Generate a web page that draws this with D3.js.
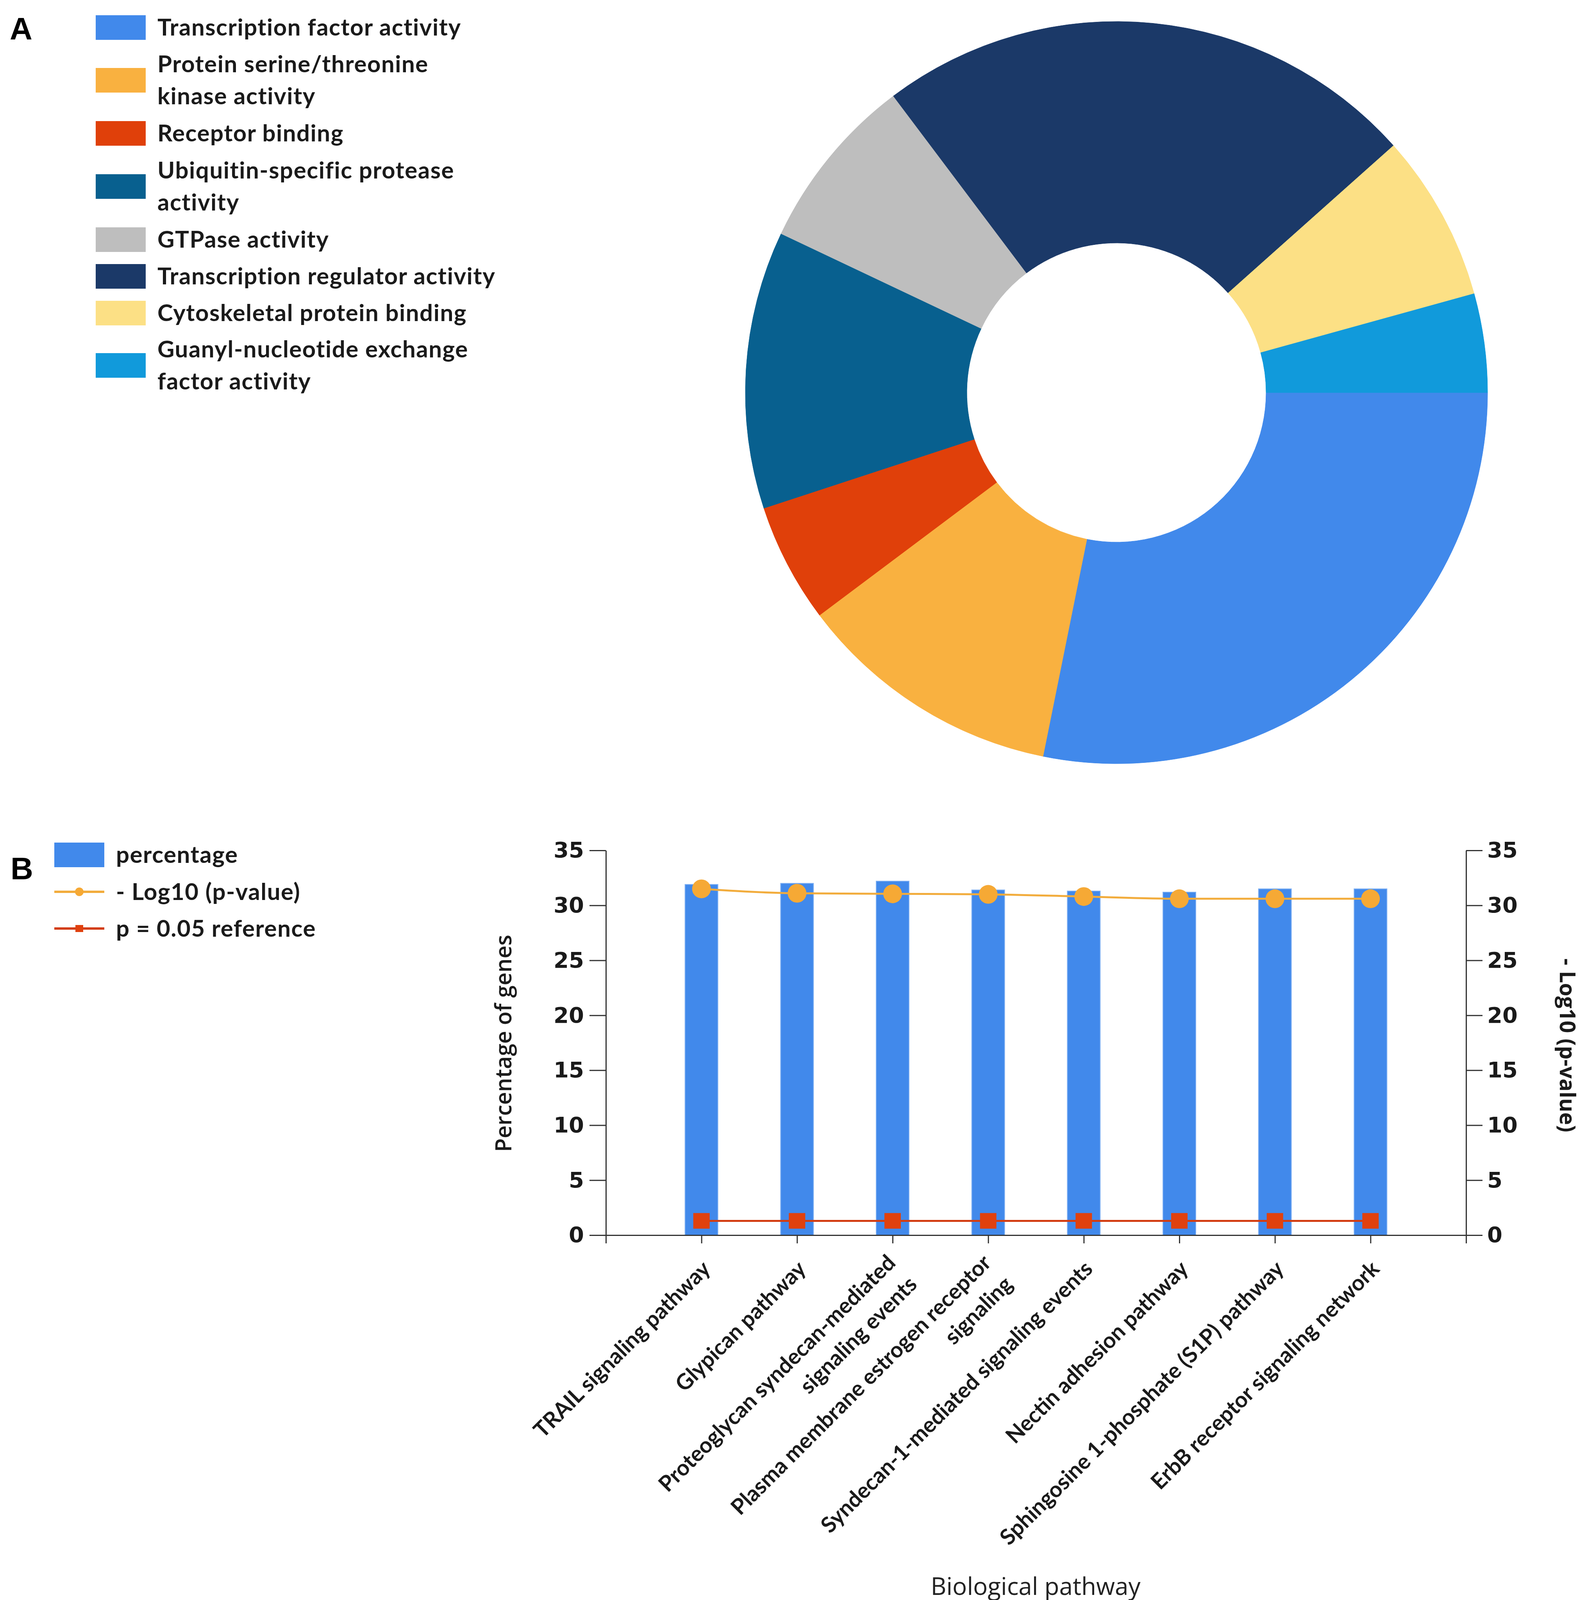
<!DOCTYPE html>
<html>
<head>
<meta charset="utf-8">
<script src="https://cdn.jsdelivr.net/npm/d3@7/dist/d3.min.js"></script>
<style>
  body { margin: 0; background: #fff; }
  svg { display: block; }
</style>
</head>
<body>
<svg id="fig" width="4083" height="4118"></svg>
<script>
// ---- panel A data (share of genes per molecular function, %) ----
var functionNames = [
  "Transcription factor activity",
  "Protein serine/threonine kinase activity",
  "Receptor binding",
  "Ubiquitin-specific protease activity",
  "GTPase activity",
  "Transcription regulator activity",
  "Cytoskeletal protein binding",
  "Guanyl-nucleotide exchange factor activity"
];
// legend lines as they wrap in the figure
var functionLegendLines = [
  ["Transcription factor activity"],
  ["Protein serine/threonine", "kinase activity"],
  ["Receptor binding"],
  ["Ubiquitin-specific protease", "activity"],
  ["GTPase activity"],
  ["Transcription regulator activity"],
  ["Cytoskeletal protein binding"],
  ["Guanyl-nucleotide exchange", "factor activity"]
];
var functionShares = [28.2, 11.6, 5.2, 12.1, 7.7, 23.7, 7.3, 4.3];
var functionColors = ["#4189EB", "#F9B140", "#E0400A", "#08608F",
                      "#BEBEBE", "#1B3968", "#FCE085", "#119ADB"];

// ---- panel B data ----
var pathways = [
  ["TRAIL signaling pathway"],
  ["Glypican pathway"],
  ["Proteoglycan syndecan-mediated", "signaling events"],
  ["Plasma membrane estrogen receptor", "signaling"],
  ["Syndecan-1-mediated signaling events"],
  ["Nectin adhesion pathway"],
  ["Sphingosine 1-phosphate (S1P) pathway"],
  ["ErbB receptor signaling network"]
];
var percentGenes = [31.9, 32.0, 32.2, 31.4, 31.3, 31.2, 31.5, 31.5];
var negLogP = [31.5, 31.1, 31.05, 31.0, 30.8, 30.6, 30.6, 30.6];
var refLine = [1.3, 1.3, 1.3, 1.3, 1.3, 1.3, 1.3, 1.3];
var yTicks = [0, 5, 10, 15, 20, 25, 30, 35];
var seriesNames = ["percentage", "- Log10 (p-value)", "p = 0.05 reference"];

var svg = d3.select("#fig");
var boldFont = "Lato, 'Open Sans', sans-serif";
var tickFont = "'DejaVu Sans', Verdana, sans-serif";
var textColor = "#1a1a1a";

// ================= panel A =================
svg.append("text")
  .attr("x", 25).attr("y", 101)
  .attr("font-family", "'Liberation Sans', Arial, sans-serif")
  .attr("font-weight", "bold").attr("font-size", 80)
  .attr("fill", "#000").text("A");

var legA = svg.append("g");
var legRowY = [70, 205, 341, 477, 613, 707, 801, 935];
functionNames.forEach(function(name, i){
  var cy = legRowY[i];
  legA.append("rect")
    .attr("x", 245).attr("y", cy - 31)
    .attr("width", 128).attr("height", 63)
    .attr("fill", functionColors[i]);
  var lines = functionLegendLines[i];
  var t = legA.append("text")
    .attr("font-family", boldFont).attr("font-weight", "bold")
    .attr("font-size", 60).attr("letter-spacing", 1.5)
    .attr("fill", textColor);
  lines.forEach(function(l, j){
    t.append("tspan")
      .attr("x", 403)
      .attr("y", cy + (j - (lines.length - 1) / 2) * 82)
      .attr("dy", "0.35em")
      .text(l);
  });
});

var pieCx = 2858, pieCy = 1005, outerR = 950, innerR = 383;
var pie = d3.pie().sort(null)
  .startAngle(Math.PI / 2).endAngle(Math.PI / 2 + 2 * Math.PI);
var arc = d3.arc().innerRadius(innerR).outerRadius(outerR);
svg.append("g")
  .attr("transform", "translate(" + pieCx + "," + pieCy + ")")
  .selectAll("path")
  .data(pie(functionShares))
  .join("path")
  .attr("d", arc)
  .attr("fill", function(d, i){ return functionColors[i]; })
  .attr("stroke", function(d, i){ return functionColors[i]; })
  .attr("stroke-width", 1);

// ================= panel B =================
svg.append("text")
  .attr("x", 27).attr("y", 2251)
  .attr("font-family", "'Liberation Sans', Arial, sans-serif")
  .attr("font-weight", "bold").attr("font-size", 80)
  .attr("fill", "#000").text("B");

var barColor = "#4189EB", lineColor = "#F2AC3C", refColor = "#D33D12";
var markOrange = "#F6A935", markRed = "#E0410E";

var legB = svg.append("g");
var legBY = [2188, 2283, 2377];
legB.append("rect").attr("x", 139).attr("y", legBY[0] - 31)
  .attr("width", 128).attr("height", 63).attr("fill", barColor);
legB.append("line").attr("x1", 139).attr("x2", 267)
  .attr("y1", legBY[1]).attr("y2", legBY[1])
  .attr("stroke", lineColor).attr("stroke-width", 6);
legB.append("circle").attr("cx", 203).attr("cy", legBY[1]).attr("r", 11)
  .attr("fill", markOrange);
legB.append("line").attr("x1", 139).attr("x2", 267)
  .attr("y1", legBY[2]).attr("y2", legBY[2])
  .attr("stroke", refColor).attr("stroke-width", 6);
legB.append("rect").attr("x", 193).attr("y", legBY[2] - 9)
  .attr("width", 20).attr("height", 18).attr("fill", markRed);
seriesNames.forEach(function(s, i){
  legB.append("text")
    .attr("x", 297).attr("y", legBY[i]).attr("dy", "0.35em")
    .attr("font-family", boldFont).attr("font-weight", "bold")
    .attr("font-size", 60).attr("letter-spacing", 1.5)
    .attr("fill", textColor)
    .text(s);
});

var plotLeft = 1551, plotRight = 3753, plotTop = 2177, plotBottom = 3162;
var keys = pathways.map(function(p){ return p.join(" "); });
var x = d3.scalePoint().domain(keys).range([plotLeft, plotRight]).padding(1);
var yL = d3.scaleLinear().domain([0, 35]).range([plotBottom, plotTop]);
var yR = d3.scaleLinear().domain([0, 35]).range([plotBottom, plotTop]);
var barW = 84;

// bars
svg.append("g").selectAll("rect")
  .data(percentGenes)
  .join("rect")
  .attr("x", function(d, i){ return x(keys[i]) - barW / 2; })
  .attr("y", function(d){ return yL(d); })
  .attr("width", barW)
  .attr("height", function(d){ return yL(0) - yL(d); })
  .attr("fill", barColor)
  .attr("stroke", "#7FB0F3").attr("stroke-width", 2);

// axes
function styleAxis(g){
  g.selectAll("path, line").attr("stroke", "#333").attr("stroke-width", 3);
  g.selectAll("text")
    .attr("font-family", tickFont).attr("font-weight", "bold")
    .attr("font-size", 56).attr("fill", textColor);
}
svg.append("g")
  .attr("transform", "translate(" + plotLeft + ",0)")
  .call(d3.axisLeft(yL).tickValues(yTicks).tickSize(42).tickSizeOuter(0).tickPadding(14))
  .call(styleAxis);
svg.append("g")
  .attr("transform", "translate(" + plotRight + ",0)")
  .call(d3.axisRight(yR).tickValues(yTicks).tickSize(42).tickSizeOuter(0).tickPadding(12))
  .call(styleAxis);
svg.append("g")
  .attr("transform", "translate(0," + plotBottom + ")")
  .call(d3.axisBottom(x).tickSize(21).tickSizeOuter(21).tickFormat(""))
  .call(styleAxis);

// rotated category labels
var lh = 78;
pathways.forEach(function(lines, i){
  var t = svg.append("text")
    .attr("transform", "translate(" + x(keys[i]) + "," + plotBottom + ") rotate(-45)")
    .attr("text-anchor", "end")
    .attr("font-family", boldFont).attr("font-weight", "bold")
    .attr("font-size", 56).attr("fill", textColor);
  lines.forEach(function(l, j){
    var base = lines.length === 1 ? 82 : 60 + j * lh;
    t.append("tspan").attr("x", -45).attr("y", base).text(l);
  });
});

// -log10(p) line
var pLine = d3.line()
  .x(function(d, i){ return x(keys[i]); })
  .y(function(d){ return yR(d); })
  .curve(d3.curveMonotoneX);
svg.append("path").datum(negLogP)
  .attr("d", pLine).attr("fill", "none")
  .attr("stroke", lineColor).attr("stroke-width", 5);
svg.append("g").selectAll("circle")
  .data(negLogP).join("circle")
  .attr("cx", function(d, i){ return x(keys[i]); })
  .attr("cy", function(d){ return yR(d); })
  .attr("r", 24).attr("fill", markOrange);

// p = 0.05 reference
var rLine = d3.line()
  .x(function(d, i){ return x(keys[i]); })
  .y(function(d){ return yR(d); });
svg.append("path").datum(refLine)
  .attr("d", rLine).attr("fill", "none")
  .attr("stroke", refColor).attr("stroke-width", 5);
var sq = 42;
svg.append("g").selectAll("rect")
  .data(refLine).join("rect")
  .attr("x", function(d, i){ return x(keys[i]) - sq / 2; })
  .attr("y", function(d){ return yR(d) - 20; })
  .attr("width", sq).attr("height", 40)
  .attr("fill", markRed);

// axis titles
svg.append("text")
  .attr("transform", "translate(1289,2671) rotate(-90)")
  .attr("text-anchor", "middle").attr("dy", "0.35em")
  .attr("font-family", "'Open Sans', sans-serif").attr("font-weight", 600)
  .attr("font-size", 57).attr("fill", textColor)
  .text("Percentage of genes");
svg.append("text")
  .attr("transform", "translate(4012,2676) rotate(90)")
  .attr("text-anchor", "middle").attr("dy", "0.35em")
  .attr("font-family", "'Open Sans', sans-serif").attr("font-weight", 700)
  .attr("font-size", 55).attr("fill", textColor)
  .text("- Log10 (p-value)");
svg.append("text")
  .attr("x", 2651).attr("y", 4083)
  .attr("text-anchor", "middle")
  .attr("font-family", "'Open Sans', sans-serif")
  .attr("font-size", 62).attr("fill", "#222")
  .text("Biological pathway");
</script>
</body>
</html>
